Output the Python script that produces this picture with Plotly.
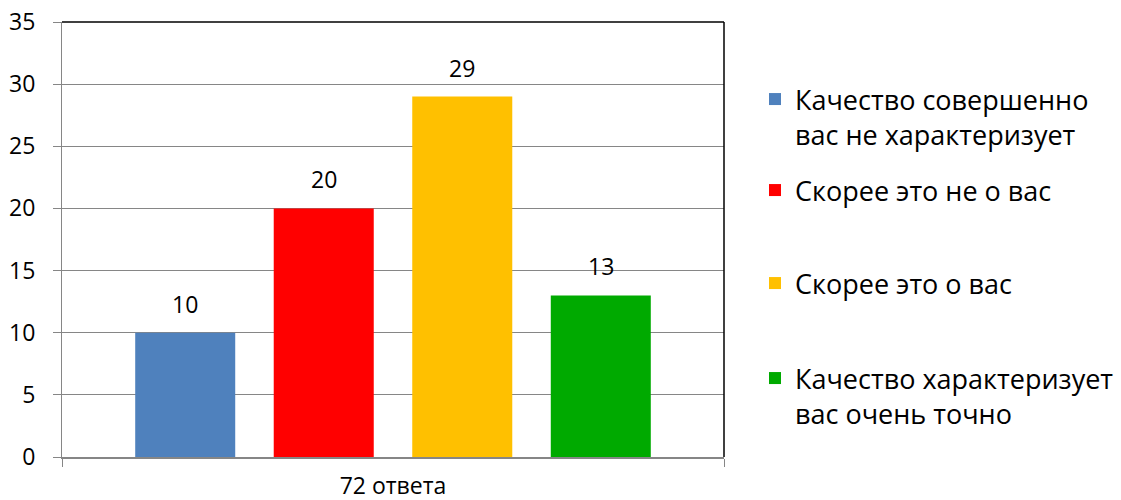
import plotly.graph_objects as go

category = ["72 ответа"]
series_names = [
    "Качество совершенно<br>вас не характеризует",
    "Скорее это не о вас",
    "Скорее это о вас",
    "Качество характеризует<br>вас очень точно",
]
series_values = [10, 20, 29, 13]
series_colors = ["#4F81BD", "#FF0000", "#FFC000", "#00AA00"]
y_ticks = [0, 5, 10, 15, 20, 25, 30, 35]

FONT = "Open Sans"
W, H = 1121, 500
legend_names = ["legend", "legend2", "legend3", "legend4"]
legend_y_px = [75, 166, 259, 354]
BARGAP = 0.163
BARGROUPGAP = 0.278
n = len(series_values)
slot = (1 - BARGAP) / n

fig = go.Figure()
annotations = []
for i, (name, val, col, lg) in enumerate(zip(series_names, series_values, series_colors, legend_names)):
    fig.add_trace(go.Bar(
        x=category, y=[val], name=name,
        marker=dict(color=col, line=dict(width=0)),
        legend=lg,
    ))
    annotations.append(dict(
        x=(i - (n - 1) / 2) * slot, y=val, xref="x", yref="y",
        text=str(val), showarrow=False, yanchor="bottom", yshift=11,
        font=dict(size=23, color="black", family=FONT),
    ))

layout_legends = {}
for lg, ypx in zip(legend_names, legend_y_px):
    layout_legends[lg] = dict(
        x=755 / W, y=1 - ypx / H, xref="container", yref="container",
        xanchor="left", yanchor="top", valign="top",
        font=dict(size=27, color="black", family=FONT),
        bgcolor="rgba(0,0,0,0)",
    )

fig.update_layout(
    width=W, height=H,
    margin=dict(l=62, r=397, t=22, b=43, autoexpand=False),
    paper_bgcolor="white", plot_bgcolor="white",
    barmode="group", bargap=BARGAP, bargroupgap=BARGROUPGAP,
    font=dict(family=FONT, color="black"),
    showlegend=True,
    annotations=annotations,
    **layout_legends,
)
fig.update_yaxes(
    range=[0, 35], tickvals=y_ticks, showgrid=True, gridcolor="#868686", gridwidth=1,
    showline=True, linecolor="#868686", linewidth=1,
    ticks="outside", ticklen=8, tickcolor="#868686",
    tickfont=dict(size=23, color="black", family=FONT), zeroline=False,
    ticklabelstandoff=13, automargin=False, ticklabeloverflow="allow",
)
fig.update_xaxes(
    showline=True, linecolor="#868686", linewidth=2,
    ticks="outside", ticklen=8, tickcolor="#868686", tickson="boundaries",
    tickfont=dict(size=23, color="black", family=FONT), ticklabelstandoff=7,
    automargin=False, ticklabeloverflow="allow",
)
fig.add_shape(type="line", xref="paper", yref="paper", x0=0, x1=1, y0=1, y1=1,
              line=dict(color="black", width=1.5))
fig.add_shape(type="line", xref="paper", yref="paper", x0=1, x1=1, y0=0, y1=1,
              line=dict(color="black", width=1.5))

fig.write_html("out.html", config={"displayModeBar": False},
               post_script="document.body.style.margin='0';")
